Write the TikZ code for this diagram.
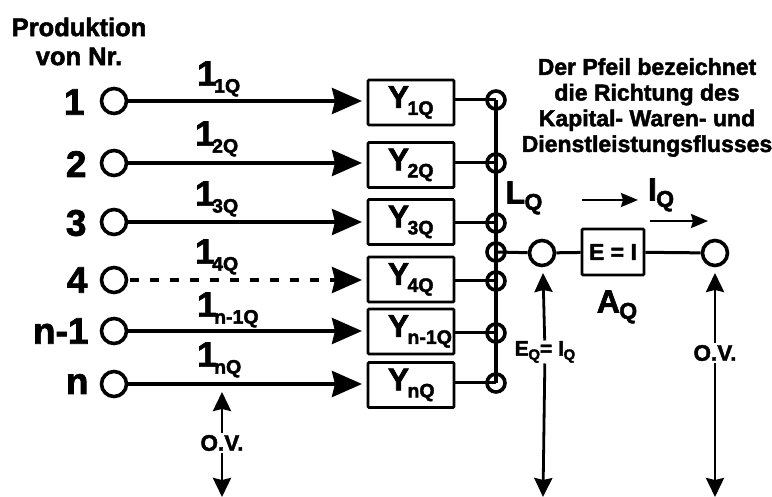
\documentclass[tikz,border=0pt]{standalone}
\usepackage{fontspec}
\setmainfont{Liberation Sans}[BoldFont={Liberation Sans Bold},BoldFeatures={FakeBold=2}]
\usetikzlibrary{arrows.meta}
\newcommand\sbq[2][16]{\kern-0.02em\raisebox{-0.2em}{\fontsize{#1}{#1}\selectfont #2}}
\newcommand\sbl[1]{\kern-1.5pt\raisebox{-7pt}{\fontsize{19.5}{19.5}\selectfont #1}}
\newcommand\ylabel[1]{\makebox[46pt][l]{Y\sbl{#1}}}
\newcommand\flabel[1]{1\kern-1pt\sbl{#1}}
\tikzset{
 x=1pt,y=-1pt,
 every node/.style={font=\bfseries,text=black},
 wire/.style={line width=3.6pt,draw=black},
 bigtip/.style={-{Stealth[length=30pt,width=26pt,inset=3pt]}},
 midtip/.style={-{Stealth[length=19pt,width=18pt,inset=2pt]}},
 bothtip/.style={wire,line width=2.8pt,midtip},
 smalltip/.style={-{Stealth[length=17pt,width=14pt,inset=2pt]}},
 port/.style={circle,draw=black,line width=3.6pt,fill=white,minimum size=25pt,inner sep=0pt},
 dot/.style={circle,draw=black,line width=3.6pt,minimum size=18pt,inner sep=0pt},
 ybox/.style={rectangle,draw=black,line width=2.8pt,rounded corners=1pt,fill=white,minimum width=86pt,minimum height=45pt,inner sep=0pt,font=\bfseries\fontsize{31.5}{31.5}\selectfont},
 num/.style={font=\bfseries\fontsize{37}{37}\selectfont,anchor=east},
 flow/.style={font=\bfseries\fontsize{35}{35}\selectfont,anchor=west,inner sep=0pt},
 head/.style={font=\bfseries\fontsize{23}{25.7}\selectfont,align=center},
 ovlab/.style={font=\bfseries\fontsize{22.5}{22.5}\selectfont,inner sep=1.5pt},
 biglab/.style={font=\bfseries\fontsize{32}{32}\selectfont,inner sep=0pt},
}
\begin{document}
\begin{tikzpicture}
\useasboundingbox (0,0) rectangle (772,497);
\fill[white] (0,0) rectangle (772,497);
% Heading
\node[head,font=\bfseries\fontsize{25.5}{29}\selectfont] (title) at (79,41.5) {Produktion\\von Nr.};
\node[head] (note) at (647,107.5) {Der Pfeil bezeichnet\\die Richtung des\\Kapital- Waren- und\\Dienstleistungsflusses};
% Sources
\node[port] (c1) at (114,101) {};
\node[port] (c2) at (114,163) {};
\node[port] (c3) at (114,222) {};
\node[port] (c4) at (114,280) {};
\node[port] (c5) at (114,331) {};
\node[port] (c6) at (114,384) {};
\node[num] (n1) at (88,102) {1};
\node[num] (n2) at (90,164) {2};
\node[num] (n3) at (90,223) {3};
\node[num] (n4) at (91,280) {4};
\node[num] (n5) at (92,331) {n-1};
\node[num] (n6) at (92,384) {n};
% Boxes
\node[ybox] (b1) at (411,102.5) {\ylabel{1Q}};
\node[ybox] (b2) at (411,165) {\ylabel{2Q}};
\node[ybox] (b3) at (411,222) {\ylabel{3Q}};
\node[ybox] (b4) at (411,279.5) {\ylabel{4Q}};
\node[ybox] (b5) at (411,331.5) {\ylabel{n-1Q}};
\node[ybox] (b6) at (411,385) {\ylabel{nQ}};
% Flow labels
\node[flow] (f1) at (197,79) {\flabel{1Q}};
\node[flow] (f2) at (195,139) {\flabel{2Q}};
\node[flow] (f3) at (195,199) {\flabel{3Q}};
\node[flow] (f4) at (195,257) {\flabel{4Q}};
\node[flow] (f5) at (197,310) {\flabel{n-1Q}};
\node[flow] (f6) at (197,360) {\flabel{nQ}};
% Junction dots
\node[dot] (d1) at (496,100) {};
\node[dot] (d2) at (496,163) {};
\node[dot] (d3) at (496,223) {};
\node[dot] (dh) at (496,252) {};
\node[dot] (d4) at (496,281) {};
\node[dot] (d5) at (496,333) {};
\node[dot] (d6) at (496,383) {};
% Flow arrows
\coordinate (t1) at (362,101);
\coordinate (t2) at (362,163);
\coordinate (t3) at (362,222);
\coordinate (t4) at (362,280);
\coordinate (t5) at (362,331);
\coordinate (t6) at (362,384);
\draw[wire,bigtip] (c1) -- (t1);
\draw[wire,bigtip] (c2) -- (t2);
\draw[wire,bigtip] (c3) -- (t3);
\draw[wire,bigtip,dash pattern=on 9pt off 11pt,dash phase=-2pt] (c4) -- (t4);
\draw[wire,bigtip] (c5) -- (t5);
\draw[wire,bigtip] (c6) -- (t6);
% Bus
\draw[wire] (d1.center) -- (d6.center);
\foreach \i in {1,...,6}{\draw[wire,line width=3pt] (b\i.east |- d\i) -- (d\i.center);}
% Right side
\node[port] (p1) at (542,253) {};
\node[port] (p2) at (715,253) {};
\node[rectangle,draw=black,line width=2.8pt,rounded corners=1pt,minimum width=62pt,minimum height=46pt,inner sep=0pt,font=\bfseries\fontsize{23}{23}\selectfont] (eq) at (613,252) {E = I};
\draw[wire,line width=3pt] (dh.center) -- (p1);
\draw[wire,line width=3pt] (p1) -- (eq);
\draw[wire,line width=3pt] (eq) -- (p2);
\node[biglab] (lq) at (524,198) {L\sbq[23]{Q}};
\node[biglab] (iq) at (661,195) {I\sbq[23]{Q}};
\node[biglab] (aq) at (617,307) {A\sbq[23]{Q}};
\coordinate (a1s) at (582,200); \coordinate (a1e) at (638,200);
\coordinate (a2s) at (650,221); \coordinate (a2e) at (708,221);
\draw[wire,line width=2.4pt,smalltip] (a1s) -- (a1e);
\draw[wire,line width=2.4pt,smalltip] (a2s) -- (a2e);
% Vertical O.V. arrows
\node[ovlab] (ov1) at (222,443) {O.V.};
\node[ovlab,font=\bfseries\fontsize{21}{21}\selectfont,inner sep=0.5pt] (eqi) at (545,352) {E\sbq[15]{Q}= I\sbq[15]{Q}};
\node[ovlab] (ov3) at (715,353) {O.V.};
\coordinate (u1) at (222,392); \coordinate (l1) at (222,497);
\coordinate (u2) at (543,273); \coordinate (l2) at (543,497);
\coordinate (u3) at (715,273); \coordinate (l3) at (715,497);
\foreach \k/\n in {1/ov1,2/eqi,3/ov3}{
 \draw[bothtip] (\n) -- (u\k);
 \draw[bothtip] (\n) -- (l\k);
}
\end{tikzpicture}
\end{document}
